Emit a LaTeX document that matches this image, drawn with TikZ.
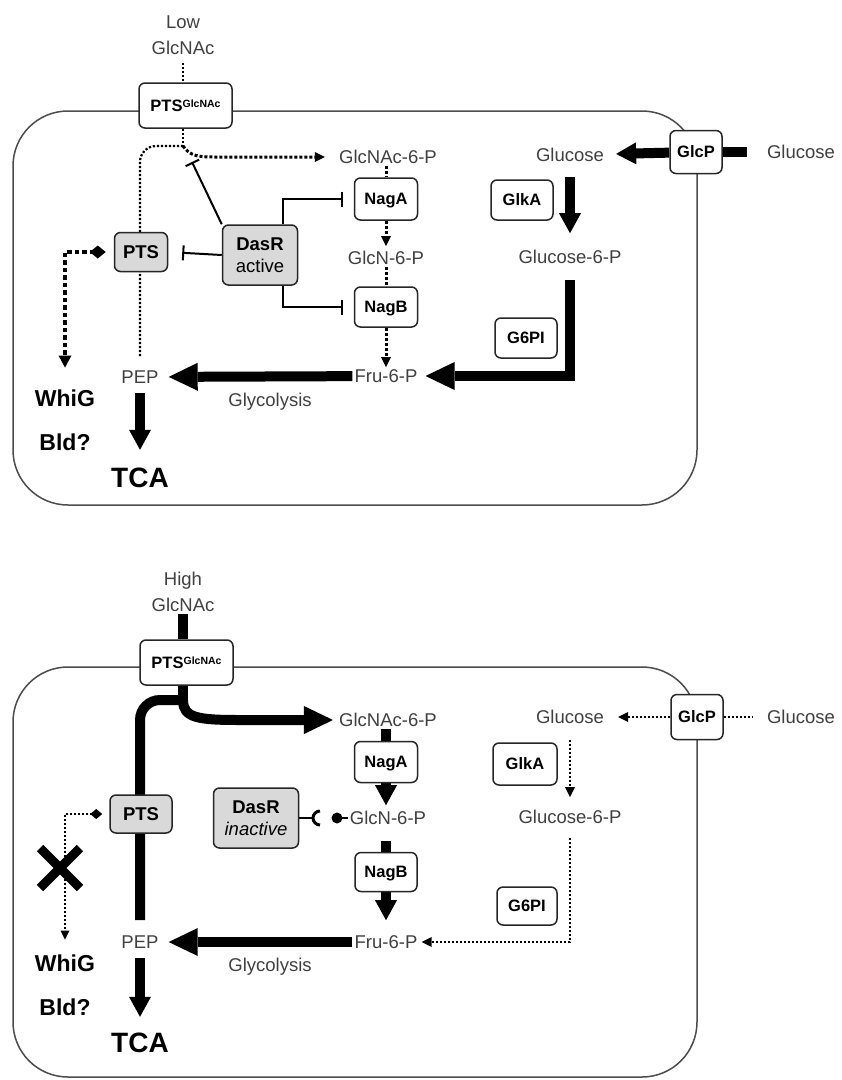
\documentclass[tikz,border=0pt]{standalone}
\usepackage{fontspec}
\setmainfont{Liberation Sans}
\usetikzlibrary{arrows.meta,backgrounds}
\newcommand{\ptsglc}{PTS\raisebox{3.5pt}{\fontsize{10.5}{11}\selectfont GlcNAc}}

\begin{document}
\begin{tikzpicture}[x=1pt,y=-1pt,
  cell/.style={draw=black!70,line width=1.5pt,rounded corners=55pt},
  metml/.style={font=\fontsize{18.5}{26}\selectfont,text=black!75,inner sep=2pt,align=center},
  met/.style={metml,text height=13.2pt,text depth=0pt},
  lab/.style={font=\bfseries\fontsize{23}{26}\selectfont,text height=16.5pt,text depth=0pt,inner sep=1pt},
  tcalab/.style={lab,font=\bfseries\fontsize{28}{30}\selectfont,text height=20pt},
  boxbase/.style={draw=black!85,line width=1.5pt,rounded corners=6pt,inner sep=1pt},
  enz/.style={boxbase,fill=white,font=\bfseries\fontsize{16.5}{20}\selectfont,text height=12pt,text depth=1pt},
  ptsbox/.style={boxbase,fill=black!15,font=\bfseries\fontsize{18.5}{22}\selectfont,text height=13.2pt,text depth=0pt},
  dasrbox/.style={boxbase,fill=black!15,font=\bfseries\fontsize{18.5}{22}\selectfont,align=center},
  fat/.style={line width=10pt},
  fatarrow/.style={fat,-{Triangle[length=20pt,width=22pt,line width=0pt]}},
  bigarrow/.style={fat,-{Triangle[length=29pt,width=28pt,line width=0pt]}},
  thindot/.style={line width=2.2pt,dash pattern=on 2.2pt off 1.8pt},
  middot/.style={line width=3pt,dash pattern=on 3pt off 2pt},
  fatdot/.style={line width=4.5pt,dash pattern=on 4.5pt off 3pt},
  smalltip/.style={-{Triangle[length=10pt,width=10pt,line width=0pt]}},
  block/.style={line width=2pt,-{Bar[width=15pt]}}]
\useasboundingbox (0,0) rectangle (842,1080);

\node[metml] (lowup) at (183,35) {Low\\GlcNAc};
\node[enz,minimum width=93pt,minimum height=45pt] (ptsgup) at (185.5,105.5) {\ptsglc};
\node[met] (gnac6pup) at (388,157) {GlcNAc-6-P};
\node[enz,minimum width=63pt,minimum height=42pt] (nagaup) at (386,199) {NagA};
\node[met] (gn6pup) at (386,258) {GlcN-6-P};
\node[enz,minimum width=63pt,minimum height=40pt] (nagbup) at (386,307) {NagB};
\node[met] (fru6pup) at (386,376) {Fru-6-P};
\node[dasrbox,minimum width=75pt,minimum height=60pt] (dasrup) at (260,255) {DasR\\{\mdseries active}};
\node[ptsbox,minimum width=53pt,minimum height=39pt] (ptsup) at (141,252) {PTS};
\node[met] (pepup) at (140,377) {PEP};
\node[lab] (whigup) at (65,398) {WhiG};
\node[lab] (bldup) at (65,442) {Bld?};
\node[tcalab] (tcaup) at (140,477) {TCA};
\node[met] (glyup) at (270,400) {Glycolysis};
\node[enz,minimum width=52pt,minimum height=43pt] (glcpup) at (696,152) {GlcP};
\node[met] (glcinup) at (570,155) {Glucose};
\node[met] (glcoutup) at (801,152) {Glucose};
\node[enz,minimum width=62pt,minimum height=40pt] (glkaup) at (522,200) {GlkA};
\node[met] (g6pup) at (570,257) {Glucose-6-P};
\node[enz,minimum width=62pt,minimum height=40pt] (g6piup) at (526,338) {G6PI};
\coordinate (splitup) at (183,146);
\coordinate (tbarup) at (192,162);

\node[metml] (highlo) at (183,592) {High\\GlcNAc};
\node[enz,minimum width=93pt,minimum height=45pt] (ptsglo) at (186.5,662.5) {\ptsglc};
\node[met] (gnac6plo) at (388,720) {GlcNAc-6-P};
\node[enz,minimum width=63pt,minimum height=41pt] (nagalo) at (386,762) {NagA};
\node[met] (gn6plo) at (388,818) {GlcN-6-P};
\node[enz,minimum width=62pt,minimum height=39pt] (nagblo) at (386,872) {NagB};
\node[met] (fru6plo) at (386,942) {Fru-6-P};
\node[dasrbox,minimum width=85pt,minimum height=60pt] (dasrlo) at (256,818) {DasR\\{\mdseries\itshape inactive}};
\node[ptsbox,minimum width=62pt,minimum height=38pt] (ptslo) at (141,814) {PTS};
\node[met] (peplo) at (140,942) {PEP};
\node[lab] (whiglo) at (65,963) {WhiG};
\node[lab] (bldlo) at (65,1007) {Bld?};
\node[tcalab] (tcalo) at (140,1042) {TCA};
\node[met] (glylo) at (270,965) {Glycolysis};
\node[enz,minimum width=52pt,minimum height=45pt] (glcplo) at (697,717) {GlcP};
\node[met] (glcinlo) at (570,717) {Glucose};
\node[met] (glcoutlo) at (801,717) {Glucose};
\node[enz,minimum width=64pt,minimum height=42pt] (glkalo) at (525,764) {GlkA};
\node[met] (g6plo) at (570,817) {Glucose-6-P};
\node[enz,minimum width=60pt,minimum height=38pt] (g6pilo) at (527,906) {G6PI};
\coordinate (splitlo) at (183,705);
\coordinate (xmark) at (60,868);
\coordinate (socketlo) at (320,818);
\coordinate (balllo) at (337,818);

\begin{scope}[on background layer]
\fill[white] (0,0) rectangle (842,1080);
\draw[cell] (13,111) rectangle (697,505);
\draw[cell] (13,667) rectangle (697,1077);

\draw[thindot,shorten <=6pt] (lowup.south) -- (lowup.south |- ptsgup.north);
\draw[thindot] (ptsgup.south -| splitup) -- (splitup);
\draw[thindot,rounded corners=16pt,shorten >=11pt] (splitup) -| (pepup.north);
\draw[middot,smalltip,shorten >=12pt] (splitup) .. controls (190,156) and (198,157) .. (215,157) -- (gnac6pup.west);
\draw[block] (dasrup.north west) -- (tbarup);
\draw[block,shorten >=14pt] (dasrup.west) -- (ptsup.east);
\draw[block,shorten >=11pt] ([xshift=-15pt]dasrup.north east) |- (nagaup.west);
\draw[block,shorten >=11pt] ([xshift=-15pt]dasrup.south east) |- (nagbup.west);
\draw[middot] (gnac6pup.south -| nagaup) -- (nagaup);
\draw[middot,smalltip,shorten >=3pt] (nagaup) -- (gn6pup);
\draw[middot] (gn6pup) -- (nagbup);
\draw[middot,smalltip] (nagbup) -- (fru6pup);
\draw[bigarrow,shorten >=8pt] (fru6pup) -- (pepup);
\draw[fatarrow,shorten <=7pt,shorten >=16pt] (pepup) -- (tcaup);
\draw[fatdot,{Diamond[length=16pt,width=13pt,line width=0pt]}-{Triangle[length=12pt,width=13pt,line width=0pt]},shorten <=8pt,shorten >=21pt] (ptsup.west) -| (whigup.north);
\draw[fatarrow,shorten >=10pt] (glcpup) -- (glcinup);
\draw[fat,shorten >=18pt] (glcpup) -- (glcoutup);
\draw[fatarrow,shorten <=13pt,shorten >=15pt] (glcinup) -- (g6pup);
\draw[bigarrow,shorten <=14pt,shorten >=6pt] (g6pup) |- (fru6pup);

\draw[fat] (highlo.south) -- (highlo.south |- ptsglo.north);
\draw[fat] (ptsglo.south -| splitlo) -- (splitlo);
\draw[fat,rounded corners=20pt,shorten >=13pt] ([yshift=5pt]splitlo) -| (peplo.north);
\draw[bigarrow,shorten >=4pt] ([yshift=5pt]splitlo) .. controls (183,718) and (198,720) .. (240,720) -- (gnac6plo.west);
\draw[fat] (gnac6plo.south -| nagalo) -- (nagalo);
\draw[fatarrow,shorten >=4pt] (nagalo) -- (nagalo |- gn6plo.north);
\draw[fat,shorten <=14pt] (gn6plo.south -| nagblo) -- (nagblo);
\draw[fatarrow,shorten >=13pt] (nagblo) -- (fru6plo);
\draw[bigarrow,shorten >=8pt] (fru6plo) -- (peplo);
\draw[fatarrow,shorten <=7pt,shorten >=14pt] (peplo) -- (tcalo);
\draw[thindot,{Diamond[length=12pt,width=10pt,line width=0pt]}-{Triangle[length=9pt,width=9pt,line width=0pt]},shorten <=7pt,shorten >=14pt] (ptslo.west) -| (whiglo.north);
\draw[line width=9pt] (xmark) +(-20,-20) -- +(20,20) (xmark) +(-20,20) -- +(20,-20);
\draw[line width=2pt] (dasrlo.east) -- ([xshift=-7pt]socketlo);
\draw[line width=3pt] ([yshift=7pt]socketlo) arc[start angle=90,end angle=270,radius=7pt];
\fill (balllo) circle[radius=5.5pt];
\draw[line width=2pt] (balllo) -- (gn6plo.west);
\draw[thindot,smalltip,shorten >=12pt] (glcplo) -- (glcinlo);
\draw[thindot,shorten >=12pt] (glcplo) -- (glcoutlo);
\draw[thindot,smalltip,shorten <=14pt,shorten >=11pt] (glcinlo) -- (g6plo);
\draw[thindot,smalltip,shorten <=12pt,shorten >=2pt] (g6plo) |- (fru6plo);
\end{scope}
\end{tikzpicture}
\end{document}
